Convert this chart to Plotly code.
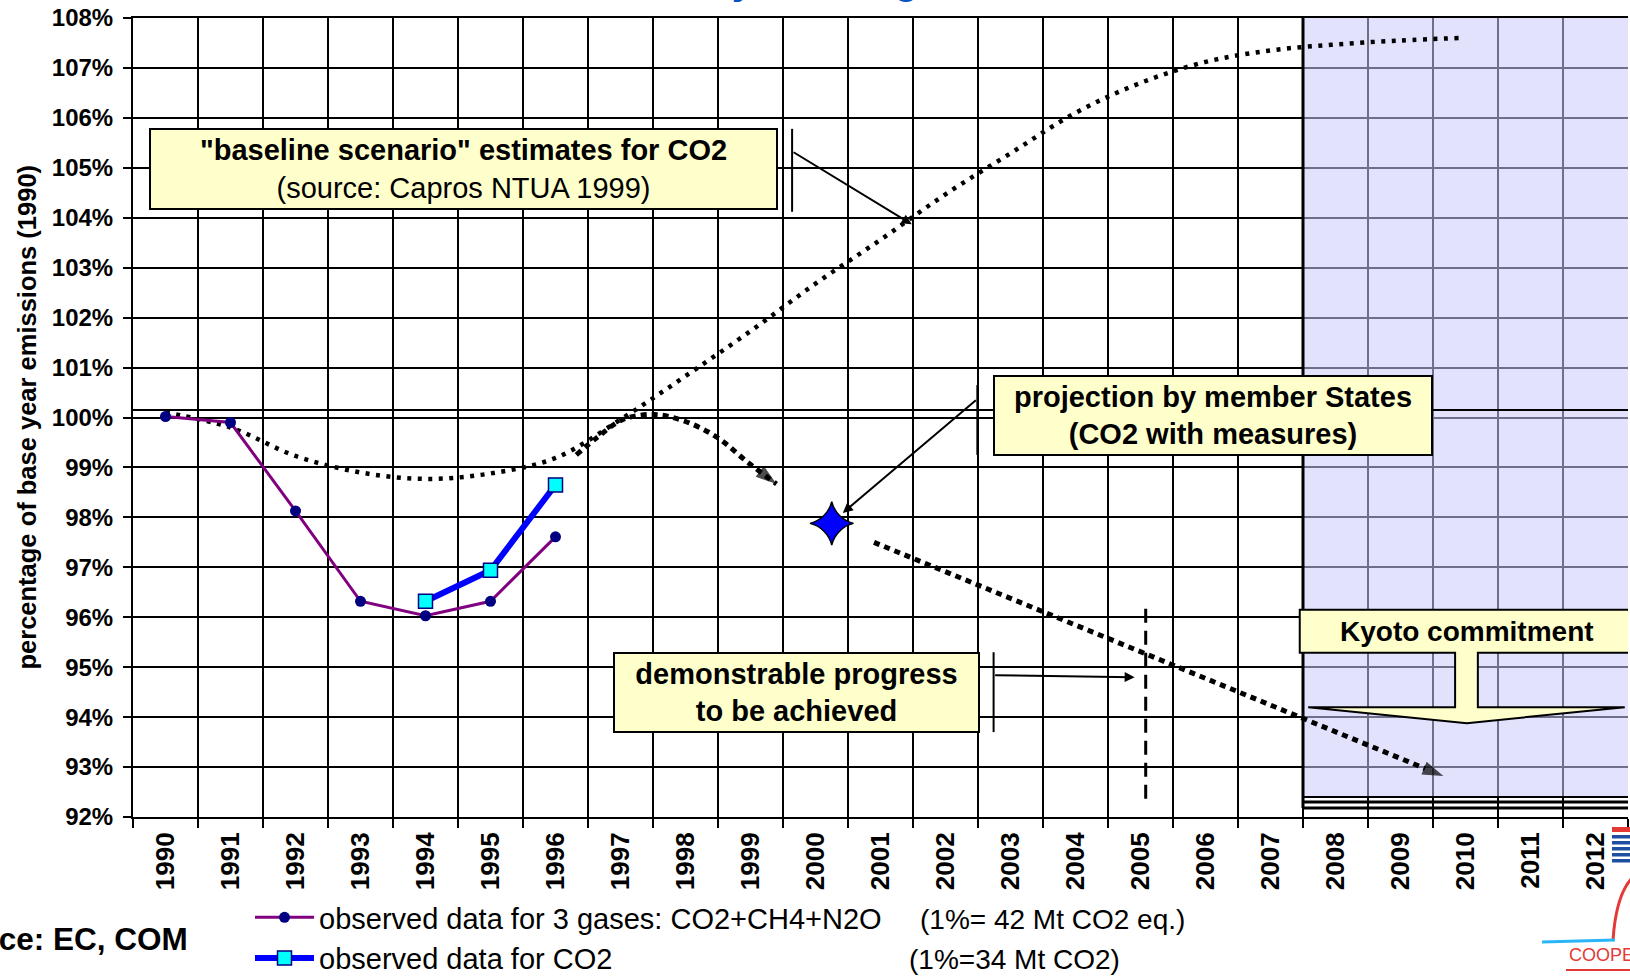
import plotly.graph_objects as go

FONT = "Liberation Sans"
W, H = 1630, 976
L, R, T, B = 133, 2, 18, 159

# --- data -----------------------------------------------------------------
years = list(range(1990, 2013))
year_labels = [str(y) for y in years]
band_edges = [y - 0.5 for y in years] + [2012.5]
pct_ticks = list(range(92, 109))
pct_labels = [f"{p}%" for p in pct_ticks]

obs_years = [1990, 1991, 1992, 1993, 1994, 1995, 1996]
gases3 = [100.02, 99.9, 98.13, 96.32, 96.03, 96.32, 97.61]

co2_years = [1994, 1995, 1996]
co2 = [96.32, 96.94, 98.65]

# "baseline scenario" estimates for CO2 (Capros NTUA 1999)
baseline_years = [1990, 1991, 1992, 1993, 1994, 1995, 1996, 1997, 1998, 1999,
                  2000, 2001, 2002, 2003, 2004, 2005, 2006, 2007, 2008, 2009, 2009.9]
baseline = [100.1, 99.8, 99.23, 98.9, 98.77, 98.88, 99.19, 99.96, 100.83, 101.73,
            102.68, 103.56, 104.47, 105.29, 106.1, 106.7, 107.12, 107.35, 107.47, 107.55, 107.6]

# member states projection (with measures)
measures_years = [1996.32, 1996.64, 1997.04, 1997.52, 1998.0, 1998.49, 1998.96, 1999.4]
measures = [99.25, 99.6, 99.96, 100.06, 99.92, 99.6, 99.1, 98.67]

ms_year = [2000.25]
ms_value = [97.88]

trend_years = [2000.9, 2009.66]
trend = [97.5, 92.82]

milestone_years = [2005.08, 2005.08]
milestone = [96.17, 92.28]

ref_years = [1989.5, 2012.5]
ref_level = [100.15, 100.15]

kyoto_period = [2007.5, 2012.6]
kyoto_floor = [92.4, 92.3, 92.18]

YELLOW = "#FFFFCC"


def px_x(p):
    return (p - L) / (W - L - R)


def px_y(p):
    return (H - B - p) / (H - T - B)


fig = go.Figure()

fig.add_trace(go.Scatter(
    x=ref_years, y=ref_level, mode="lines",
    line=dict(color="black", width=2), showlegend=False, hoverinfo="skip"))

fig.add_trace(go.Scatter(
    x=baseline_years, y=baseline, mode="lines",
    line=dict(color="black", width=4.5, dash="4px,6.5px", shape="spline"),
    showlegend=False))

fig.add_trace(go.Scatter(
    x=measures_years, y=measures, mode="lines+markers",
    line=dict(color="black", width=5, dash="6px,5px", shape="spline"),
    marker=dict(symbol=["circle"] * (len(measures) - 1) + ["arrow"],
                size=[0] * (len(measures) - 1) + [22],
                angleref="previous", color="black", line=dict(width=0)),
    showlegend=False))

fig.add_trace(go.Scatter(
    x=trend_years, y=trend, mode="lines+markers",
    line=dict(color="black", width=5, dash="6px,5px"),
    marker=dict(symbol=["circle", "arrow"], size=[0, 22],
                angleref="previous", color="black", line=dict(width=0)),
    showlegend=False))

fig.add_trace(go.Scatter(
    x=milestone_years, y=milestone, mode="lines",
    line=dict(color="black", width=3, dash="14px,8px"), showlegend=False))

fig.add_trace(go.Scatter(
    x=ms_year, y=ms_value, mode="markers",
    marker=dict(symbol="star-diamond", size=31, color="#0000FF",
                line=dict(color="black", width=1.5)),
    showlegend=False))

fig.add_trace(go.Scatter(
    x=obs_years, y=gases3, mode="lines+markers",
    name="observed data for 3 gases: CO2+CH4+N2O", legendgroup="g3",
    line=dict(color="#800080", width=3),
    marker=dict(symbol="circle", size=11, color="#000080")))

fig.add_trace(go.Scatter(
    x=co2_years, y=co2, mode="lines+markers",
    name="observed data for CO2", legendgroup="co2",
    line=dict(color="#0000FF", width=6),
    marker=dict(symbol="square", size=14, color="#00FFFF",
                line=dict(color="#000080", width=1.5))))

# --- Kyoto commitment period shading ---------------------------------------
shapes = [
    dict(type="rect", xref="x", yref="y", x0=kyoto_period[0], x1=kyoto_period[1],
         y0=kyoto_floor[0], y1=108.3, fillcolor="rgba(202,202,250,0.55)",
         line=dict(width=0), layer="between"),
    dict(type="line", xref="x", yref="y", x0=kyoto_period[0], x1=kyoto_period[0],
         y0=kyoto_floor[2], y1=108, line=dict(color="black", width=3), layer="between"),
]
for lvl, w in zip(kyoto_floor, [2, 3, 3]):
    shapes.append(dict(type="line", xref="x", yref="y", x0=kyoto_period[0],
                       x1=kyoto_period[1], y0=lvl, y1=lvl,
                       line=dict(color="black", width=w), layer="between"))

# Kyoto block-arrow callout
kx = dict(left=2007.45, right=2012.7, stem_l=2009.84, stem_r=2010.19,
          head_l=2007.58, head_r=2012.45, tip=2010.02)
ky = dict(top=96.15, bottom=95.29, head=94.2, tip=93.88)
kpath = (f"M{kx['left']},{ky['top']} L{kx['right']},{ky['top']} "
         f"L{kx['right']},{ky['bottom']} L{kx['stem_r']},{ky['bottom']} "
         f"L{kx['stem_r']},{ky['head']} L{kx['head_r']},{ky['head']} "
         f"L{kx['tip']},{ky['tip']} L{kx['head_l']},{ky['head']} "
         f"L{kx['stem_l']},{ky['head']} L{kx['stem_l']},{ky['bottom']} "
         f"L{kx['left']},{ky['bottom']} Z")
shapes.append(dict(type="path", xref="x", yref="y", path=kpath, fillcolor=YELLOW,
                   line=dict(color="black", width=2), layer="above"))

# callout brackets
brackets = [(1999.64, 104.12, 105.78), (2002.49, 99.25, 100.65), (2002.74, 93.7, 95.3)]
for bx, b0, b1 in brackets:
    shapes.append(dict(type="line", xref="x", yref="y", x0=bx, x1=bx, y0=b0, y1=b1,
                       line=dict(color="black", width=2), layer="above"))

# logo fragment, bottom right
shapes.append(dict(type="rect", xref="paper", yref="paper", x0=px_x(1612), x1=px_x(1632),
                   y0=px_y(832), y1=px_y(827), fillcolor="#E53935", line=dict(width=0)))
for i in range(5):
    top = 835 + i * 6
    shapes.append(dict(type="rect", xref="paper", yref="paper", x0=px_x(1612), x1=px_x(1632),
                       y0=px_y(top + 3.5), y1=px_y(top), fillcolor="#1E4FA0",
                       line=dict(width=0)))
shapes.append(dict(type="path", xref="paper", yref="paper",
                   path=f"M{px_x(1613)},{px_y(940)} Q{px_x(1616)},{px_y(895)} {px_x(1632)},{px_y(878)}",
                   line=dict(color="#E53935", width=3)))
shapes.append(dict(type="line", xref="paper", yref="paper", x0=px_x(1542), x1=px_x(1615),
                   y0=px_y(942), y1=px_y(940), line=dict(color="#29B6F6", width=3)))
shapes.append(dict(type="line", xref="paper", yref="paper", x0=px_x(1566), x1=px_x(1632),
                   y0=px_y(970), y1=px_y(970), line=dict(color="#E53935", width=2)))

box_font = dict(family=FONT, size=29, color="black")
note_font = dict(family=FONT, size=28, color="black")
annotations = [
    dict(x=1994.58, y=104.97, xref="x", yref="y", showarrow=False,
         text='<b>"baseline scenario" estimates for CO2</b><br>(source: Capros NTUA 1999)',
         font=box_font, bgcolor=YELLOW, bordercolor="black", borderwidth=2,
         borderpad=0, width=625, height=78),
    dict(x=2006.11, y=100.05, xref="x", yref="y", showarrow=False,
         text="<b>projection by member States<br>(CO2 with measures)</b>",
         font=box_font, bgcolor=YELLOW, bordercolor="black", borderwidth=2,
         borderpad=0, width=436, height=77),
    dict(x=1999.7, y=94.5, xref="x", yref="y", showarrow=False,
         text="<b>demonstrable progress<br>to be achieved</b>",
         font=box_font, bgcolor=YELLOW, bordercolor="black", borderwidth=2,
         borderpad=0, width=363, height=77),
    dict(x=2010.03, y=95.72, xref="x", yref="y", showarrow=False,
         text="<b>Kyoto commitment</b>", font=dict(family=FONT, size=28, color="black")),
    # callout arrows
    dict(x=2001.48, y=103.87, ax=1999.64, ay=105.33, xref="x", yref="y",
         axref="x", ayref="y", text="", showarrow=True, arrowhead=2,
         arrowsize=1, arrowwidth=2, arrowcolor="black"),
    dict(x=2000.42, y=98.09, ax=2002.49, ay=100.37, xref="x", yref="y",
         axref="x", ayref="y", text="", showarrow=True, arrowhead=2,
         arrowsize=1, arrowwidth=2, arrowcolor="black"),
    dict(x=2004.91, y=94.8, ax=2002.74, ay=94.84, xref="x", yref="y",
         axref="x", ayref="y", text="", showarrow=True, arrowhead=2,
         arrowsize=1, arrowwidth=2, arrowcolor="black"),
    # axis title
    dict(x=px_x(26), y=0.5, xref="paper", yref="paper", showarrow=False,
         xanchor="center", yanchor="middle",
         text="<b>percentage of base year emissions (1990)</b>", textangle=-90,
         font=dict(family=FONT, size=25.5, color="black")),
    # legend side notes
    dict(x=px_x(918), y=px_y(919), xref="paper", yref="paper", showarrow=False,
         xanchor="left", yanchor="middle", text="(1%= 42 Mt CO2 eq.)", font=note_font),
    dict(x=px_x(907), y=px_y(959), xref="paper", yref="paper", showarrow=False,
         xanchor="left", yanchor="middle", text="(1%=34 Mt CO2)", font=note_font),
    dict(x=px_x(190), y=px_y(939), xref="paper", yref="paper", showarrow=False,
         xanchor="right", yanchor="middle", text="<b>Source: EC, COM</b>",
         font=dict(family=FONT, size=31.5, color="black")),
    # title, mostly above the visible area
    dict(x=px_x(595), y=1, xref="paper", yref="paper", xanchor="center",
         yanchor="bottom", yshift=14, showarrow=False,
         text="<b>Emissions of the Community and targets</b>",
         font=dict(family=FONT, size=39, color="#0050C8")),
    dict(x=px_x(1567), y=px_y(955), xref="paper", yref="paper", showarrow=False,
         xanchor="left", yanchor="middle", text="COOPERATION",
         font=dict(family=FONT, size=18, color="#E53935")),
]

fig.update_layout(
    width=W, height=H,
    margin=dict(l=L, r=R, t=T, b=B, autoexpand=False),
    paper_bgcolor="white", plot_bgcolor="white",
    font=dict(family=FONT, color="black"),
    shapes=shapes, annotations=annotations,
    showlegend=True,
    legend=dict(x=px_x(250), y=px_y(984), xanchor="left", yanchor="bottom",
                font=dict(family=FONT, size=29, color="black"),
                tracegroupgap=3, itemwidth=59, bgcolor="rgba(0,0,0,0)",
                traceorder="normal"),
)

fig.update_xaxes(
    range=[1989.5, 2012.5], tickmode="array", tickvals=years, ticktext=year_labels,
    tickangle=-90, ticks="", showgrid=False, zeroline=False, automargin=False,
    tickfont=dict(family=FONT, size=26, color="black", weight="bold"),
    ticklabelstandoff=3,
    showline=True, linecolor="black", linewidth=2, mirror=True,
    minor=dict(tickmode="array", tickvals=band_edges, showgrid=True,
               gridcolor="black", gridwidth=2, ticks="outside", ticklen=9,
               tickcolor="black", tickwidth=2),
)
fig.update_yaxes(
    range=[92, 108], tickmode="array", tickvals=pct_ticks, ticktext=pct_labels,
    showgrid=True, gridcolor="black", gridwidth=2, zeroline=False, automargin=False,
    ticks="outside", ticklen=8, tickcolor="black", tickwidth=2,
    ticklabelstandoff=5,
    tickfont=dict(family=FONT, size=24, color="black", weight="bold"),
    showline=True, linecolor="black", linewidth=2,
)

# page body has a default 8px margin; drop it so the figure fills the window
fig.write_html("out.html", config={"displayModeBar": False},
               post_script="document.body.style.margin='0px';"
                           "document.body.style.overflow='hidden';")
